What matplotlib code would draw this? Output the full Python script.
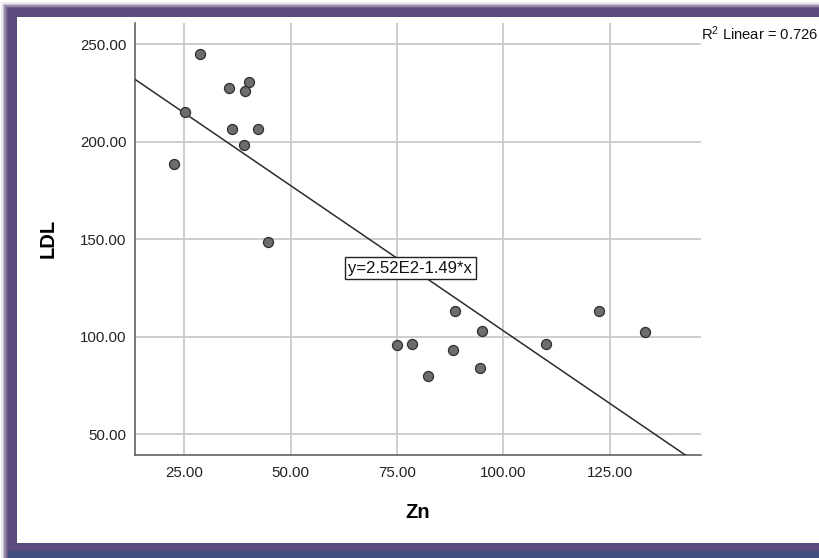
"""SPSS-style scatter of LDL against Zn with linear fit line."""

import matplotlib

matplotlib.use("Agg")
import matplotlib.pyplot as plt
from matplotlib.patches import Rectangle
import numpy as np

plt.rcParams["font.family"] = ["Liberation Sans", "DejaVu Sans"]
plt.rcParams["mathtext.default"] = "regular"

# values
zn = [28.6, 35.4, 40.2, 39.3, 25.2, 36.2, 42.3, 39.0, 22.6, 44.7,
      74.9, 78.5, 88.6, 95.0, 88.1, 82.2, 94.4, 110.0, 122.4, 133.2]
ldl = [245.2, 227.4, 230.5, 226.2, 215.2, 206.4, 206.4, 198.5, 188.4, 148.3,
       95.9, 96.2, 113.2, 103.1, 93.0, 79.7, 84.1, 96.2, 113.2, 102.2]
fit_intercept = 252.0
fit_slope = -1.49
r2_text = r"R$^{2}$ Linear = 0.726"
eq_text = "y=2.52E2-1.49*x"
x_ticks = [25, 50, 75, 100, 125]
y_ticks = [50, 100, 150, 200, 250]

W, H = 819, 558
fig = plt.figure(figsize=(W / 100, H / 100), dpi=100)
fig.patch.set_facecolor("white")


def px_rect(x0, y0, x1, y1, **kw):
    # rectangle in pixel coords measured from the top-left corner
    r = Rectangle((x0 / W, 1 - y1 / H), (x1 - x0) / W, (y1 - y0) / H,
                  transform=fig.transFigure, lw=0, zorder=-10, **kw)
    fig.add_artist(r)


purple = "#5c4b7d"
# soft outer shadow of the frame
for i, a in enumerate([0.12, 0.25, 0.45, 0.7]):
    px_rect(1 + i * 1.6, 2 + i * 1.5, W + 5, H + 5, facecolor=purple, alpha=a)
px_rect(8, 8, W + 5, H + 5, facecolor=purple)
px_rect(8, 551, W + 5, H + 5, facecolor="#404f82")
px_rect(17.3, 16.7, W + 5, 542.7, facecolor="white")

ax = fig.add_axes([135 / W, 1 - 454.7 / H, (700.7 - 135) / W, (454.7 - 22.7) / H])
ax.set_facecolor("white")
ax.set_xlim(13.4, 146.4)
ax.set_ylim(39.4, 261.1)

ax.set_xticks(x_ticks)
ax.set_yticks(y_ticks)
ax.set_xticklabels([f"{v:.2f}" for v in x_ticks])
ax.set_yticklabels([f"{v:.2f}" for v in y_ticks])
ax.tick_params(length=0, labelsize=10.8, colors="#222222")
ax.tick_params(axis="y", pad=6)
ax.tick_params(axis="x", pad=8)
ax.grid(True, color="#c9c9c9", lw=1.3)
ax.set_axisbelow(True)
for s in ("top", "right"):
    ax.spines[s].set_visible(False)
for s in ("left", "bottom"):
    ax.spines[s].set_color("#555555")
    ax.spines[s].set_linewidth(1.1)

xs = np.array(ax.get_xlim())
ax.plot(xs, fit_intercept + fit_slope * xs, color="#2b2b2b", lw=1.1, zorder=3)
ax.scatter(zn, ldl, s=52, facecolor="#6d6d6d", edgecolor="#2e2e2e", lw=0.9, zorder=4)

ax.text(78.1, 135.2, eq_text, ha="center", va="center", fontsize=12, color="#111111",
        zorder=5, bbox=dict(boxstyle="square,pad=0.22", facecolor="white",
                            edgecolor="#222222", lw=1))

ax.set_xlabel("Zn", fontsize=14.5, fontweight="bold", labelpad=17)
ax.set_ylabel("LDL", fontsize=14.5, fontweight="bold", labelpad=16)

fig.text(701 / W, 1 - 40 / H, r2_text, ha="left", va="baseline", fontsize=10.6,
         color="#111111")

fig.savefig("out.png", dpi=100)
plt.close(fig)
